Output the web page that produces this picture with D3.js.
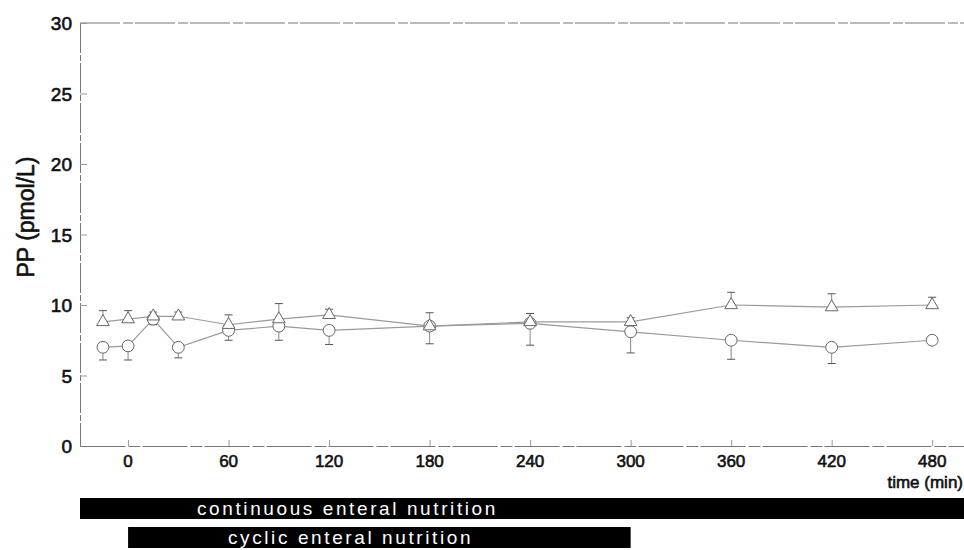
<!DOCTYPE html>
<html>
<head>
<meta charset="utf-8">
<script src="https://cdn.jsdelivr.net/npm/d3@7"></script>
<style>
  body { margin: 0; background: #fff; }
  svg text { font-family: "Liberation Sans", Arial, sans-serif; }
  .lab { fill: #111; stroke: #111; stroke-width: 0.6px; }
</style>
</head>
<body>
<div id="chart"></div>
<script>
var times = [-15, 0, 15, 30, 60, 90, 120, 180, 240, 300, 360, 420, 480];
// triangles: mean with upward error bar
var tri_mean = [8.8, 9.0, 9.2, 9.2, 8.6, 9.0, 9.3, 8.5, 8.8, 8.8, 10.0, 9.85, 10.0];
var tri_err  = [0.8, 0.6, 0.3, 0.3, 0.7, 1.1, 0.4, 0.95, 0.6, 0.3, 0.9, 0.95, 0.55];
// circles: mean with downward error bar
var circ_mean = [7.0, 7.1, 9.0, 7.0, 8.2, 8.5, 8.2, 8.5, 8.7, 8.1, 7.5, 7.0, 7.5];
var circ_err  = [0.9, 1.0, 0.4, 0.75, 0.7, 1.0, 1.0, 1.25, 1.55, 1.5, 1.35, 1.15, 0.3];
var x_ticks = [0, 60, 120, 180, 240, 300, 360, 420, 480];
var y_ticks = [0, 5, 10, 15, 20, 25, 30];
var phases = [
  {label: "continuous enteral nutrition", from: null, to: null},
  {label: "cyclic enteral nutrition", from: 0, to: 300}
];

var svg = d3.select("#chart").append("svg")
    .attr("width", 964)
    .attr("height", 550);

var x = d3.scaleLinear().domain([-28.7, 499]).range([80, 964]);
var y = d3.scaleLinear().domain([0, 30]).range([446, 23]);

///////////// FRAME + AXES /////////////
svg.append("line")
    .attr("x1", 80).attr("x2", 964)
    .attr("y1", y(30)).attr("y2", y(30))
    .attr("stroke", "#777").attr("stroke-width", 1)
    .attr("stroke-dasharray", "40,3,10,2");

var yAxis = svg.append("g")
    .attr("transform", "translate(80,0)")
    .call(d3.axisRight(y).tickValues(y_ticks).tickSize(7).tickFormat(""));
yAxis.select(".domain").attr("stroke", "#777").attr("stroke-dasharray", "30,2,6,2");
yAxis.selectAll(".tick line").attr("stroke", "#999");

svg.selectAll("text.ylab")
    .data(y_ticks)
    .enter().append("text")
    .attr("class", "ylab lab")
    .attr("x", 72)
    .attr("y", function(d) { return y(d) + 7; })
    .attr("text-anchor", "end")
    .attr("font-size", 19)
    .text(function(d) { return d; });

var xAxis = svg.append("g")
    .attr("transform", "translate(0," + y(0) + ")")
    .call(d3.axisTop(x).tickValues(x_ticks).tickSize(6).tickFormat("").tickSizeOuter(0));
xAxis.select(".domain").attr("stroke", "#777").attr("stroke-dasharray", "45,3,12,2");
xAxis.selectAll(".tick line").attr("stroke", "#999");

svg.selectAll("text.xlab")
    .data(x_ticks)
    .enter().append("text")
    .attr("class", "xlab lab")
    .attr("x", function(d) { return x(d); })
    .attr("y", 467)
    .attr("text-anchor", "middle")
    .attr("font-size", 17)
    .text(function(d) { return d; });

svg.append("text")
    .attr("class", "lab")
    .attr("x", 963).attr("y", 488)
    .attr("text-anchor", "end")
    .attr("font-size", 17)
    .text("time (min)");

svg.append("text")
    .attr("class", "lab")
    .attr("transform", "translate(34,217) rotate(-90)")
    .attr("text-anchor", "middle")
    .attr("font-size", 23)
    .text("PP (pmol/L)");

///////////// SERIES /////////////
function series(mean, err, dir, shape) {
  var pts = times.map(function(t, i) { return {t: t, v: mean[i], e: err[i]}; });
  var g = svg.append("g");

  g.append("path")
    .datum(pts)
    .attr("fill", "none")
    .attr("stroke", "#9a9a9a")
    .attr("stroke-width", 1.2)
    .attr("d", d3.line().x(function(d) { return x(d.t); }).y(function(d) { return y(d.v); }));

  var eb = g.selectAll("g.err").data(pts).enter().append("g").attr("class", "err");
  eb.append("line")
    .attr("x1", function(d) { return x(d.t); })
    .attr("x2", function(d) { return x(d.t); })
    .attr("y1", function(d) { return y(d.v); })
    .attr("y2", function(d) { return y(d.v + dir * d.e); })
    .attr("stroke", "#888");
  eb.append("line")
    .attr("x1", function(d) { return x(d.t) - 4; })
    .attr("x2", function(d) { return x(d.t) + 4; })
    .attr("y1", function(d) { return y(d.v + dir * d.e); })
    .attr("y2", function(d) { return y(d.v + dir * d.e); })
    .attr("stroke", "#555");

  g.selectAll("path.mk").data(pts).enter().append("path")
    .attr("class", "mk")
    .attr("transform", function(d) { return "translate(" + x(d.t) + "," + y(d.v) + ")"; })
    .attr("d", d3.symbol().type(shape).size(shape === d3.symbolTriangle ? 70 : 110))
    .attr("fill", "#fff")
    .attr("stroke", "#666")
    .attr("stroke-width", 1);
}

series(circ_mean, circ_err, -1, d3.symbolCircle);
series(tri_mean, tri_err, 1, d3.symbolTriangle);

///////////// NUTRITION BARS /////////////
var bar_y = [498, 527];
phases.forEach(function(p, i) {
  var x0 = p.from === null ? x.range()[0] : x(p.from);
  var x1 = p.to === null ? x.range()[1] : x(p.to);
  svg.append("rect")
    .attr("x", x0).attr("y", bar_y[i])
    .attr("width", x1 - x0).attr("height", 21)
    .attr("fill", "#000");
  svg.append("text")
    .attr("x", i === 0 ? 197 : 228)
    .attr("y", bar_y[i] + 17)
    .attr("font-size", 19)
    .attr("letter-spacing", 2.6)
    .attr("fill", "#fff")
    .text(p.label);
});
</script>
</body>
</html>
